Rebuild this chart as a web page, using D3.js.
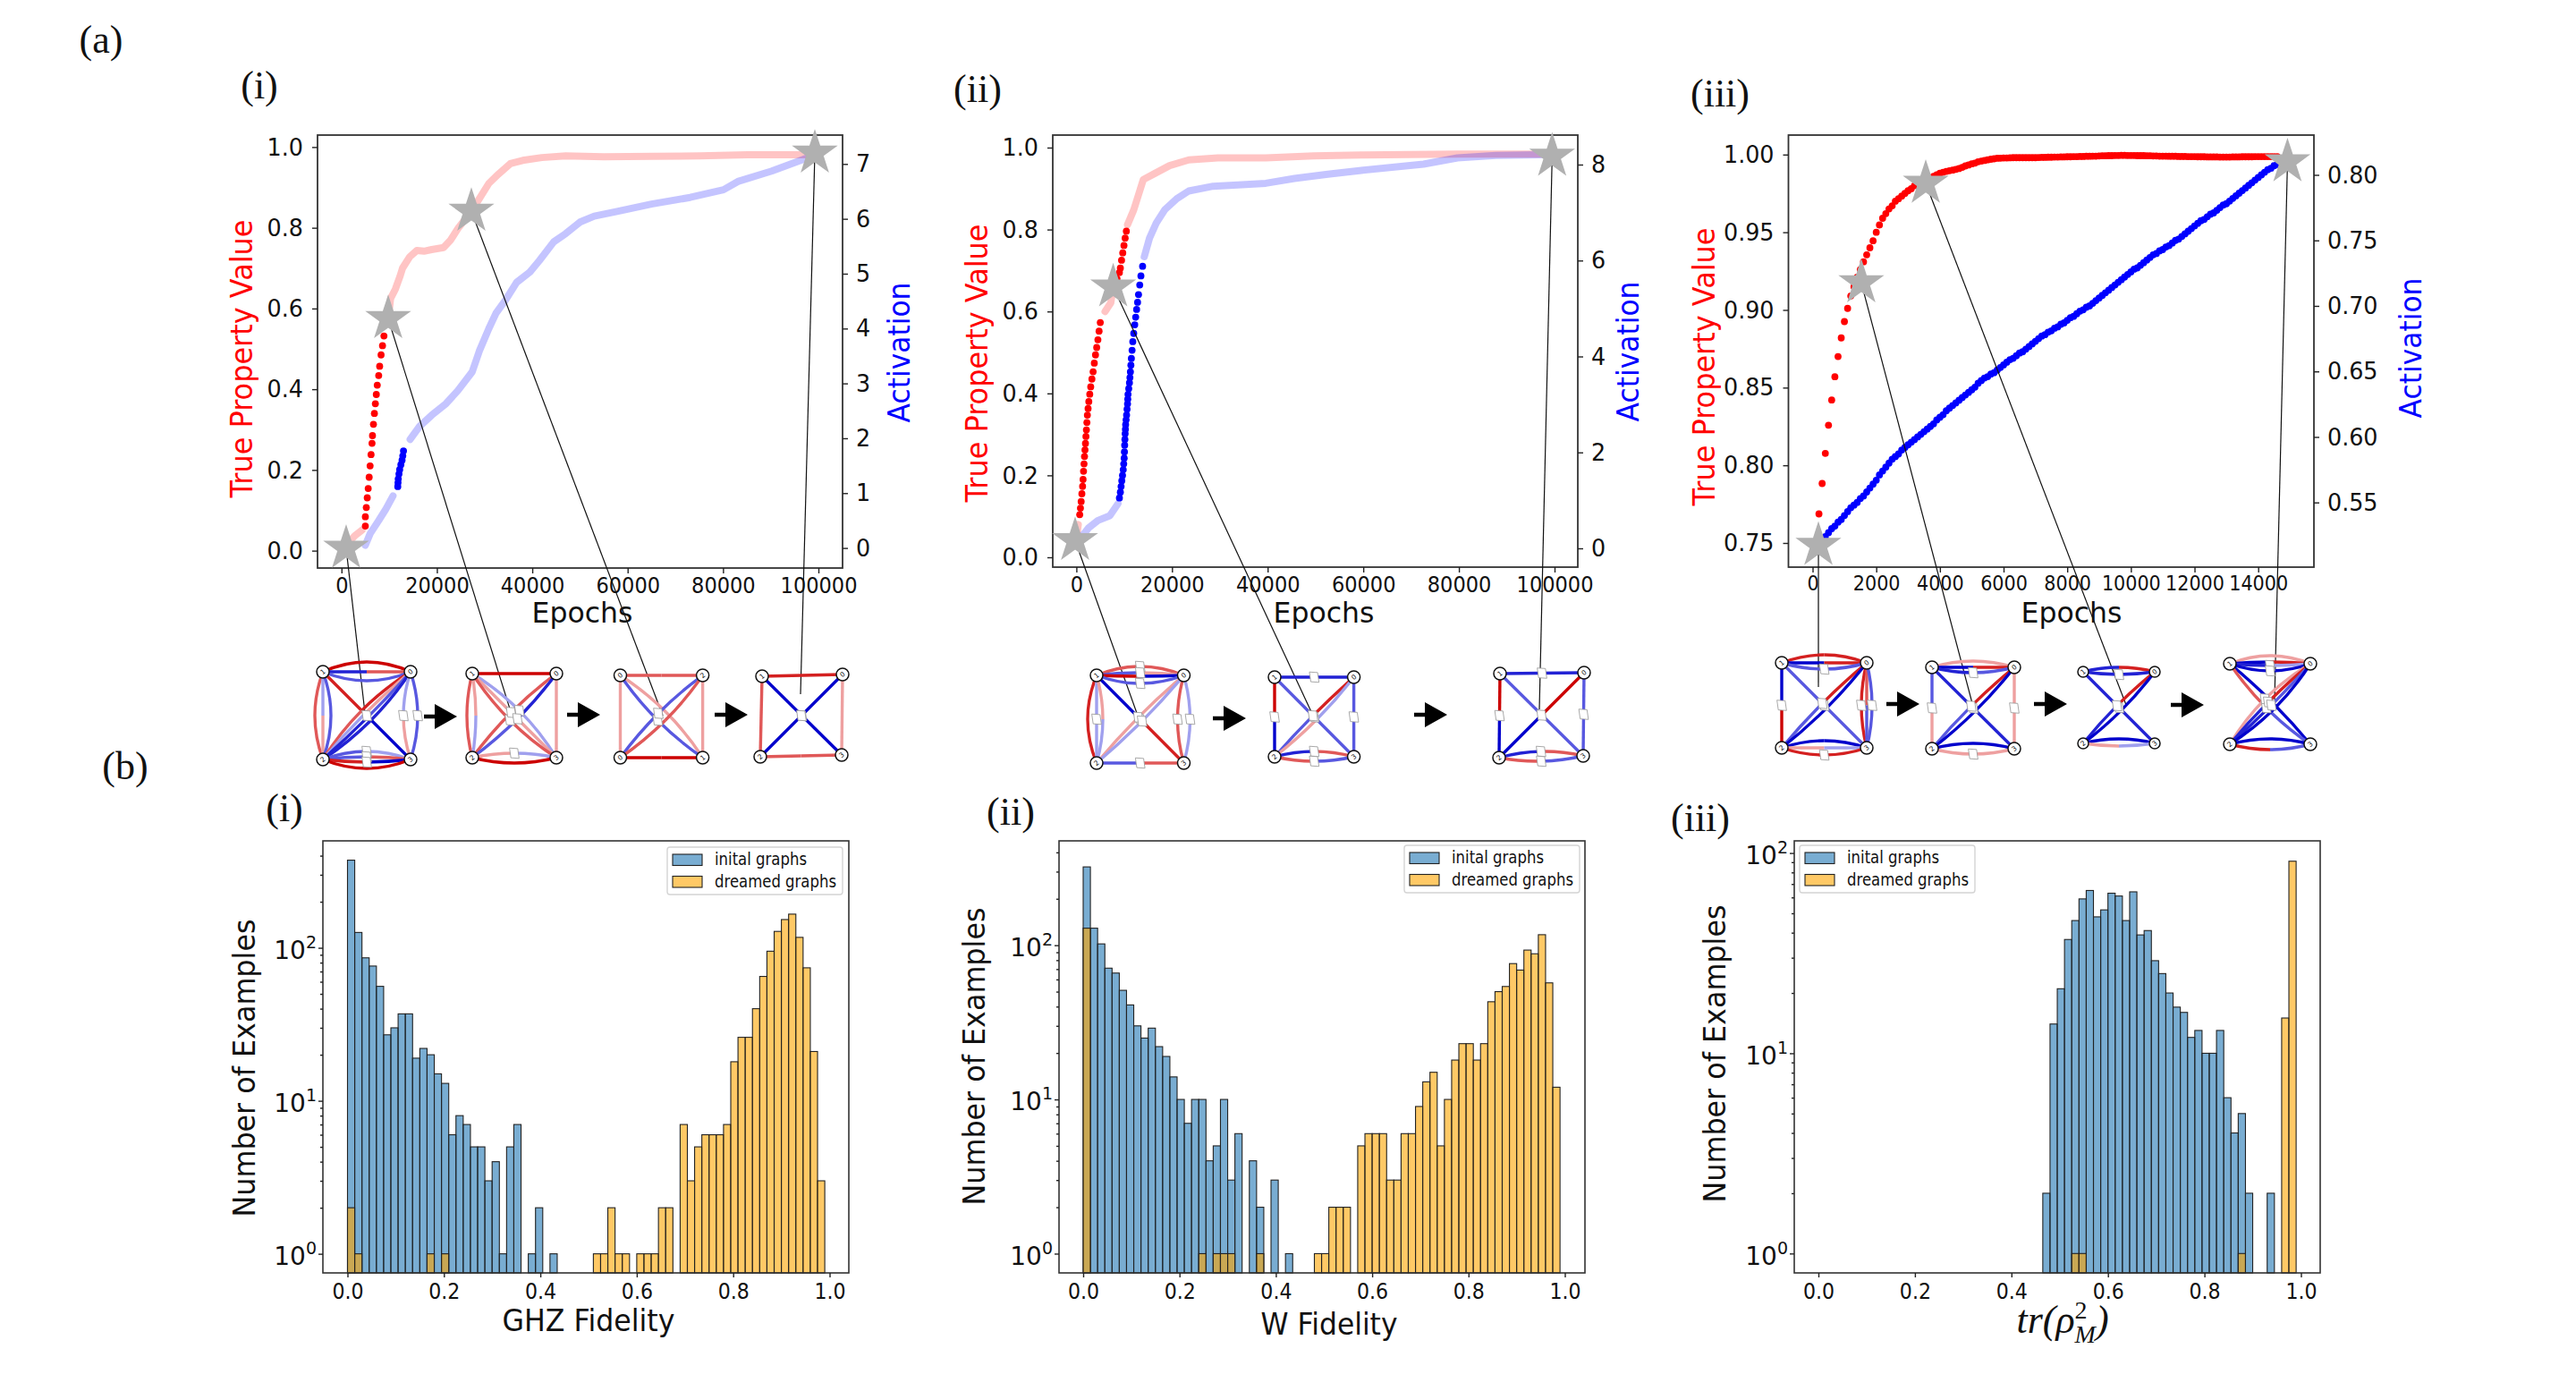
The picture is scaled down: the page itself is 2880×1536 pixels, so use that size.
<!DOCTYPE html>
<html>
<head>
<meta charset="utf-8">
<script src="https://cdnjs.cloudflare.com/ajax/libs/d3/7.8.5/d3.min.js"></script>
<style>
	body { margin: 0; background: #fff; }
	svg { display: block; }
	text { font-family: "DejaVu Sans", sans-serif; fill: #111; }
	.serif { font-family: "Liberation Serif", serif; }
</style>
</head>
<body>
<div id="fig"></div>
<script>
// (a) training curves: [epoch, value]
var redA1 = [[1000,.014],[2800,.037],[4300,.051],[5000,.061],[5000,.084],[5200,.107],[5400,.131],[5600,.154],[5800,.182],[6000,.21],[6200,.238],[6400,.266],[6500,.285],[6700,.313],[6900,.34],[7100,.364],[7300,.387],[7500,.41],[7800,.434],[8000,.457],[8300,.485],[8600,.508],[8900,.532],[9800,.574],[10300,.625],[11300,.648],[12300,.681],[12800,.7],[14300,.728],[15800,.744],[17300,.742],[18900,.746],[21400,.751],[22900,.77],[24400,.798],[27200,.84],[28900,.872],[30900,.91],[32900,.933],[35400,.959],[38000,.967],[42000,.974],[47000,.978],[55000,.976],[65000,.977],[75100,.978],[85100,.981],[99200,.981]];
var blueA1 = [[5000,.05],[6000,.26],[7800,.5],[9300,.71],[10800,.95],[11800,1.12],[11850,1.19],[11900,1.26],[12050,1.35],[12200,1.43],[12450,1.52],[12700,1.6],[12850,1.68],[13000,1.77],[14400,1.98],[16400,2.22],[18900,2.42],[21900,2.63],[24400,2.87],[27400,3.21],[28900,3.59],[30900,4],[32400,4.28],[34400,4.52],[36700,4.84],[39500,5.03],[41500,5.24],[44500,5.58],[47000,5.73],[50000,5.94],[53000,6.05],[58000,6.14],[65000,6.27],[73100,6.39],[80100,6.53],[83100,6.68],[90200,6.87],[99200,7.16]];
var redA2 = [[0,.044],[400,.08],[700,.104],[850,.12],[1000,.136],[1150,.155],[1300,.173],[1400,.19],[1500,.21],[1600,.228],[1700,.246],[1800,.262],[1900,.278],[2000,.295],[2100,.311],[2200,.329],[2300,.347],[2450,.363],[2600,.38],[2800,.398],[3000,.416],[3250,.435],[3500,.453],[3750,.474],[4000,.494],[4250,.512],[4500,.531],[4750,.552],[5000,.573],[6000,.6],[7200,.621],[7700,.66],[8000,.668],[8500,.68],[9000,.695],[9200,.706],[9450,.725],[9700,.743],[9950,.761],[10200,.779],[10450,.796],[10700,.812],[12000,.848],[13000,.885],[14000,.922],[16500,.9375],[19500,.956],[23500,.97],[29600,.975],[39600,.975],[49600,.98],[59600,.982],[69600,.983],[79700,.984],[99500,.984]];
var blueA2 = [[0,.1],[2500,.42],[4500,.58],[7000,.68],[8700,.93],[9000,1.05],[9200,1.17],[9350,1.29],[9500,1.41],[9650,1.52],[9800,1.64],[9900,1.76],[10000,1.88],[10050,2.01],[10100,2.15],[10150,2.27],[10200,2.39],[10250,2.48],[10300,2.58],[10400,2.68],[10500,2.78],[10600,2.9],[10700,3.01],[10750,3.11],[10800,3.21],[10950,3.33],[11100,3.45],[11200,3.56],[11300,3.68],[11400,3.82],[11500,3.96],[11650,4.13],[11800,4.31],[12000,4.48],[12200,4.66],[12400,4.82],[12600,4.98],[12800,5.13],[13000,5.29],[13250,5.49],[13500,5.68],[13850,5.88],[14200,6.08],[15300,6.47],[16700,6.78],[18500,7.06],[21000,7.29],[23500,7.45],[28600,7.55],[34600,7.58],[39600,7.61],[45600,7.71],[52600,7.8],[59600,7.88],[72600,8.01],[79700,8.14],[87700,8.19],[99500,8.21]];
// panel iii was sampled every 100 epochs
var redA3Start = 200;
var redA3 = [.7687,.7883,.8077,.8258,.842,.857,.87,.882,.8925,.901,.909,.915,.921,.926,.931,.9355,.94,.9445,.95,.9547,.959,.962,.965,.967,.97,.9716,.9733,.975,.9767,.978,.98,.981,.982,.983,.984,.985,.986,.987,.988,.9886,.9892,.9896,.99,.9905,.991,.9918,.9927,.9933,.994,.9945,.9954,.9958,.9962,.9966,.997,.9973,.9976,.9977,.9978,.9978,.9979,.998,.998,.998,.998,.998,.998,.998,.998,.9981,.9982,.9982,.9983,.9983,.9984,.9984,.9985,.9985,.9986,.9986,.9987,.9987,.9988,.9988,.9989,.9989,.999,.999,.9991,.9992,.9992,.9993,.9993,.9994,.9994,.9995,.9995,.9994,.9994,.9994,.9993,.9993,.9993,.9992,.9992,.9991,.9991,.999,.999,.999,.9989,.9989,.9989,.9988,.9988,.9988,.9987,.9987,.9987,.9986,.9986,.9986,.9985,.9985,.9985,.9985,.9984,.9984,.9984,.9984,.9985,.9985,.9985,.9986,.9986,.9986,.9986,.9987,.9987,.9987,.9987,.9987,.9987,.9986,.9986];
var blueA3Start = 400;
var blueA3 = [.524,.527,.53,.532,.535,.537,.54,.543,.546,.548,.55,.553,.555,.558,.561,.564,.567,.571,.574,.577,.58,.583,.585,.587,.59,.592,.594,.596,.598,.6,.602,.604,.606,.608,.61,.613,.615,.617,.62,.622,.624,.626,.628,.63,.632,.634,.636,.638,.641,.643,.645,.646,.648,.649,.651,.653,.655,.657,.659,.66,.662,.664,.665,.667,.669,.671,.673,.675,.677,.678,.68,.681,.683,.684,.686,.687,.689,.691,.692,.694,.696,.697,.699,.7,.702,.704,.706,.708,.71,.712,.714,.716,.718,.72,.722,.724,.726,.728,.729,.731,.733,.735,.737,.739,.74,.742,.743,.745,.746,.748,.75,.751,.753,.755,.757,.759,.761,.763,.765,.766,.768,.77,.771,.773,.775,.777,.778,.78,.782,.784,.786,.788,.79,.792,.794,.796,.798,.8,.802,.804,.805,.807,.808,.81,.811];

// where the dots are saturated instead of the pale trail
var solidRedA1 = [[4900,9000]], solidBlueA1 = [[11700,13100]];
var solidRedA2 = [[600,5100],[8400,10500]], solidBlueA2 = [[8900,14000]];

// gray stars, [epoch, left axis value]
var starsA1 = [[975,.006],[9790,.575],[27230,.841],[99250,.985]];
var starsA2 = [[-260,.041],[7700,.66],[99500,.979]];
var starsA3 = [[183,.7485],[1530,.9175],[3555,.9815],[14920,.9953]];

// tick labels
var epochTicks = [0,20000,40000,60000,80000,100000];
var epochTicksA3 = [0,2000,4000,6000,8000,10000,12000,14000];
var leftTicks = [0,.2,.4,.6,.8,1];
var leftTicksA3 = [.75,.8,.85,.9,.95,1];
var rightTicksA1 = [0,1,2,3,4,5,6,7];
var rightTicksA2 = [0,2,4,6,8];
var rightTicksA3 = [.55,.6,.65,.7,.75,.8];
var fidTicks = [0,.2,.4,.6,.8,1];

// (b) histograms, bin counts (bins are 0.015 wide, starting at 0)
var binWidth = 0.015;
var initialB1 = [374,126,86,76,56,27,30,37,37,19,22,20,15,13,6,8,7,5,5,3,4,1,5,7,0,1,2,0,1];
var dreamedB1 = [2,1,0,0,0,0,0,0,0,0,0,1,0,1,0,0,0,0,0,0,0,0,0,0,0,0,0,0,0,0,0,0,0,0,1,1,2,1,1,0,1,1,1,2,2,0,7,3,5,6,6,6,7,18,26,26,40,65,95,128,153,166,117,74,21,3];
var initialB2 = [322,129,102,71,66,51,41,30,25,29,22,19,14,10,7,10,10,4,5,10,3,6,0,4,2,0,3,0,1];
var dreamedB2 = [129,0,0,0,0,0,0,0,0,0,0,0,0,0,0,0,1,0,1,1,1,0,0,0,1,0,0,0,0,0,0,0,1,1,2,2,2,0,5,6,6,6,3,3,6,6,9,13,15,5,10,18,23,23,18,23,43,50,54,76,69,93,88,117,57,12];
var initialB3 = [0,0,0,0,0,0,0,0,0,0,0,0,0,0,0,0,0,0,0,0,0,0,0,0,0,0,0,0,0,0,0,2,14,21,37,46,59,65,48,52,63,61,46,64,39,41,29,25,20,17,16,12,13,10,10,13,6,4,5,2,0,0,2];
var dreamedB3 = [0,0,0,0,0,0,0,0,0,0,0,0,0,0,0,0,0,0,0,0,0,0,0,0,0,0,0,0,0,0,0,0,0,0,0,1,1,0,0,0,0,0,0,0,0,0,0,0,0,0,0,0,0,0,0,0,0,0,1,0,0,0,0,0,15,91];
var legendNames = ["inital graphs", "dreamed graphs"];

// graph snapshots: [from, to, bend, colour near from, colour near to, has label]
var R = "#cc0000", R1 = "#d42020", r2 = "#e05858", r3 = "#eea0a0";
var B = "#0000cc", B1 = "#2222d4", b2 = "#5858e0", b3 = "#a0a0ee";
var edgesA1 = [
	[[1,0,11,R,R],[1,0,0,B1,r2],[1,0,-10,b2,b2],[1,2,-9,r2,r2],[1,2,0,b3,r3],[1,2,9,b2,b2],[1,3,0,R1,B,1],[0,2,-8,R1,r2],[0,2,-3,r3,b3],[0,2,2,b2,B1],[0,2,7,B1,B1],[0,3,-8,b3,r3,1],[0,3,8,b2,b2,1],[2,3,9,b2,b3,1],[2,3,3,b2,r2,1],[2,3,-3,R1,B,1],[2,3,-10,R,R]],
	[[1,0,0,R,R],[1,2,-6,r2,r2],[1,2,4,r3,b3],[1,3,8,b3,b3,1],[1,3,0,r3,r3],[1,3,-7,r2,r2,1],[0,2,-5,r2,r2,1],[0,2,5,B1,b2,1],[0,3,0,r3,r3],[2,3,5,r3,b3,1],[2,3,-6,R,R]],
	[[1,0,0,r2,r2],[1,2,0,r3,r3],[2,3,0,R,R],[0,3,0,r3,r3],[1,3,7,r3,r3],[1,3,-6,b2,b2,1],[0,2,-5,b2,b2,1],[0,2,6,r2,r2]],
	[[1,0,0,R1,R1],[1,2,0,r2,r2],[2,3,0,r2,r2],[0,3,0,r3,r3],[1,3,0,B,B,1],[0,2,0,B,B,1]]
];
var edgesA2 = [
	[[1,0,10,r2,r2,1],[1,0,3,b2,r3,1],[1,0,-1,R,B],[1,0,-9,b2,b2,1],[1,2,-10,R1,R1],[1,2,0,b3,b3,1],[1,2,7,r3,b3],[1,3,0,B,R1,1],[0,2,-3,r3,r3,1],[0,2,3,b3,b3,1],[0,3,-7,r2,r2,1],[0,3,7,b3,b3,1],[2,3,0,b2,r2,1]],
	[[1,0,0,B1,B1,1],[1,2,0,R,B,1],[1,3,0,b2,b2,1],[0,2,-2,R1,b2,1],[0,2,4,b3,r3],[0,3,0,b2,b2,1],[2,3,6,B1,r2,1],[2,3,-5,r2,b2,1]],
	[[1,0,0,B1,B1,1],[1,2,0,R,B,1],[1,3,0,b2,b2],[0,2,0,R,B,1],[0,3,0,b2,b2,1],[2,3,6,B1,r2,1],[2,3,-5,r2,b2,1]]
];
var edgesA3 = [
	[[1,0,9,R1,R1],[1,0,0,B,R1],[1,0,-7,b2,b2,1],[1,2,0,B,R,1],[1,3,0,b2,b2,1],[0,2,-3,R1,b2,1],[0,2,4,B,B],[0,3,-6,R1,R1,1],[0,3,0,r2,b2],[0,3,6,b2,b2,1],[2,3,8,B,B],[2,3,0,r3,b3],[2,3,-8,R1,R1,1]],
	[[1,0,7,r3,r3],[1,0,0,B,R1],[1,0,-6,B1,b2,1],[1,2,0,b2,r3,1],[1,3,0,B1,B1,1],[0,2,-3,R1,b2,1],[0,2,4,B,B],[0,3,0,r3,r3,1],[2,3,6,B,B],[2,3,-6,r3,r3,1]],
	[[1,0,5,B1,R1],[1,0,-3,B1,B1,1],[1,3,0,B1,B1,1],[0,2,-3,R1,B1,1],[0,2,4,B,B],[2,3,5,B,B],[2,3,-3,r3,b3]],
	[[1,0,9,r3,r3],[1,0,2,B,R1],[1,0,-2,B1,b3,1],[1,0,-8,B,B,1],[1,3,3,B,B],[1,3,-6,r2,b2,1],[0,2,-8,r3,r3,1],[0,2,-3,R1,B1,1],[0,2,2,b2,B1,1],[0,2,7,B,B],[2,3,6,B,B],[2,3,-6,R1,b2]]
];

var width = 2880, height = 1536;
var svg = d3.select("#fig").append("svg").attr("width", width).attr("height", height);
svg.append("rect").attr("width", width).attr("height", height).attr("fill", "#fff");

// stretch a text to the measured length
function fit(sel, len) {
	sel.attr("textLength", len).attr("lengthAdjust", "spacingAndGlyphs");
	return sel;
}

function vertLabel(x, y, str, color, size, len) {
	var t = svg.append("text")
		.attr("transform", "translate(" + x + "," + y + ")rotate(-90)")
		.attr("text-anchor", "middle")
		.attr("dy", "0.36em")
		.attr("font-size", size)
		.style("fill", color)
		.text(str);
	fit(t, len);
}

function horizLabel(x, y, str, size, len) {
	var t = svg.append("text")
		.attr("x", x).attr("y", y)
		.attr("text-anchor", "middle")
		.attr("font-size", size)
		.text(str);
	fit(t, len);
}

function serifLabel(x, y, str) {
	svg.append("text").attr("class", "serif")
		.attr("x", x).attr("y", y)
		.attr("text-anchor", "middle")
		.attr("dy", "0.3em")
		.attr("font-size", 44)
		.text(str);
}

// the figure was pasted squeezed a little, so tick text is narrowed by k
function styleAxis(g, size, k) {
	g.select(".domain").remove();
	g.selectAll(".tick line").attr("stroke", "#222").attr("stroke-width", 1.4);
	g.selectAll(".tick text").attr("font-size", size).style("fill", "#111").each(function () {
		if (k && this.textContent) fit(d3.select(this), this.getComputedTextLength() * k);
	});
}

function curvePanel(p) {
	var x = d3.scaleLinear().domain(p.xd).range(p.xr);
	var yL = d3.scaleLinear().domain(p.lyd).range(p.lyr);
	var yR = d3.scaleLinear().domain(p.ryd).range(p.ryr);

	[[p.red, yL, "#ff0000", p.solidRed], [p.blue, yR, "#0000ff", p.solidBlue]].forEach(function (s) {
		var data = s[0], y = s[1], col = s[2], ranges = s[3];
		var isSolid = function (d) {
			return !ranges || ranges.some(function (r) { return d[0] >= r[0] && d[0] <= r[1]; });
		};
		if (ranges) {
			var line = d3.line()
				.defined(function (d) { return !isSolid(d); })
				.x(function (d) { return x(d[0]); })
				.y(function (d) { return y(d[1]); });
			svg.append("path").datum(data)
				.attr("d", line)
				.attr("fill", "none")
				.attr("stroke", col)
				.attr("stroke-opacity", 0.23)
				.attr("stroke-width", 8)
				.attr("stroke-linecap", "round")
				.attr("stroke-linejoin", "round");
		}
		svg.append("g").selectAll("circle").data(data.filter(isSolid)).enter().append("circle")
			.attr("cx", function (d) { return x(d[0]); })
			.attr("cy", function (d) { return y(d[1]); })
			.attr("r", 3.9)
			.attr("fill", col);
	});

	svg.append("rect")
		.attr("x", p.frame[0]).attr("y", p.frame[2])
		.attr("width", p.frame[1] - p.frame[0]).attr("height", p.frame[3] - p.frame[2])
		.attr("fill", "none").attr("stroke", "#333").attr("stroke-width", 1.8);

	var gx = svg.append("g").attr("transform", "translate(0," + p.frame[3] + ")")
		.call(d3.axisBottom(x).tickValues(p.xTicks).tickFormat(d3.format("d")).tickSize(6).tickPadding(4));
	styleAxis(gx, p.xSize, 0.9);
	var gl = svg.append("g").attr("transform", "translate(" + p.frame[0] + ",0)")
		.call(d3.axisLeft(yL).tickValues(p.lTicks).tickFormat(d3.format(p.lFmt)).tickSize(6).tickPadding(10));
	styleAxis(gl, 27, 0.94);
	var gr = svg.append("g").attr("transform", "translate(" + p.frame[1] + ",0)")
		.call(d3.axisRight(yR).tickValues(p.rTicks).tickFormat(d3.format(p.rFmt)).tickSize(6).tickPadding(9));
	styleAxis(gr, 27, 0.94);

	// connectors go from the star down to the snapshot
	p.stars.forEach(function (d, i) {
		svg.append("line")
			.attr("x1", x(d[0])).attr("y1", yL(d[1]))
			.attr("x2", p.ends[i][0]).attr("y2", p.ends[i][1])
			.attr("stroke", "#111").attr("stroke-width", 1.2);
	});
	svg.append("g").selectAll("path").data(p.stars).enter().append("path")
		.attr("d", d3.symbol().type(d3.symbolStar).size(818))
		.attr("transform", function (d) { return "translate(" + x(d[0]) + "," + yL(d[1]) + ")"; })
		.attr("fill", "#b0b0b0");

	horizLabel(p.ex, 696, "Epochs", 32, p.el);
	vertLabel(p.tx, p.ty, "True Property Value", "#ff0000", 33, 311);
	vertLabel(p.ax, p.ay, "Activation", "#0000ff", 33, 157);
}

function drawBars(p, x, y, values, col) {
	var bars = values.map(function (v, i) { return { v: v, i: i }; }).filter(function (d) { return d.v > 0; });
	svg.append("g").selectAll("rect").data(bars).enter().append("rect")
		.attr("x", function (d) { return x(d.i * binWidth); })
		.attr("width", x(binWidth) - x(0))
		.attr("y", function (d) { return y(d.v); })
		.attr("height", function (d) { return p.frame[3] - y(d.v); })
		.attr("fill", col)
		.attr("fill-opacity", 0.6)
		.attr("stroke", "#222")
		.attr("stroke-width", 1.1);
}

function histogram(p) {
	var x = d3.scaleLinear().domain([0, 1]).range(p.xr);
	var y = d3.scaleLog().domain(p.yd).range(p.yr);

	drawBars(p, x, y, p.initial, "#1f77b4");
	drawBars(p, x, y, p.dreamed, "#ffa500");

	svg.append("rect")
		.attr("x", p.frame[0]).attr("y", p.frame[2])
		.attr("width", p.frame[1] - p.frame[0]).attr("height", p.frame[3] - p.frame[2])
		.attr("fill", "none").attr("stroke", "#333").attr("stroke-width", 1.6);

	var gx = svg.append("g").attr("transform", "translate(0," + p.frame[3] + ")")
		.call(d3.axisBottom(x).tickValues(fidTicks).tickFormat(d3.format(".1f")).tickSize(5).tickPadding(7));
	styleAxis(gx, 24, 0.92);

	// log axis: minor ticks without text, then decades with superscripts
	var minor = [];
	[1, 10, 100].forEach(function (dec) {
		d3.range(1, 10).forEach(function (m) {
			var v = dec * m;
			if (m > 1 && v > p.yd[0] && v < p.yd[1]) minor.push(v);
		});
	});
	var gm = svg.append("g").attr("transform", "translate(" + p.frame[0] + ",0)")
		.call(d3.axisLeft(y).tickValues(minor).tickFormat("").tickSize(3));
	styleAxis(gm, 10);
	var gy = svg.append("g").attr("transform", "translate(" + p.frame[0] + ",0)")
		.call(d3.axisLeft(y).tickValues(p.decades).tickFormat("").tickSize(5));
	styleAxis(gy, 10);
	gy.selectAll(".tick").each(function (d) {
		var t = d3.select(this).append("text")
			.attr("x", -7).attr("dy", "0.42em")
			.attr("text-anchor", "end")
			.attr("font-size", 28)
			.style("fill", "#111")
			.text("10");
		t.append("tspan").attr("font-size", 19).attr("dy", -12).text(Math.round(Math.log10(d)));
	});

	// legend
	var lg = p.legend;
	svg.append("rect")
		.attr("x", lg.x).attr("y", lg.y).attr("width", 196).attr("height", 53).attr("rx", 3)
		.attr("fill", "#fff").attr("fill-opacity", 0.85).attr("stroke", "#d4d4d4").attr("stroke-width", 1.4);
	legendNames.forEach(function (name, i) {
		var yy = lg.y + 8 + i * 24.5;
		svg.append("rect")
			.attr("x", lg.x + 6).attr("y", yy).attr("width", 33).attr("height", 12.5)
			.attr("fill", i ? "#ffa500" : "#1f77b4").attr("fill-opacity", 0.6)
			.attr("stroke", "#222").attr("stroke-width", 1.1);
		var t = svg.append("text")
			.attr("x", lg.x + 53).attr("y", yy + 12)
			.attr("font-size", 19)
			.text(name);
		fit(t, i ? 136 : 103);
	});

	vertLabel(p.nx, p.ny, "Number of Examples", "#111", 34, 333);
}

function graphSnapshot(pos, edges, labels) {
	var g = svg.append("g");
	var squares = [];
	edges.forEach(function (e) {
		var a = pos[e[0]], b = pos[e[1]];
		var dx = b[0] - a[0], dy = b[1] - a[1], l = Math.hypot(dx, dy);
		var nx = dy / l, ny = -dx / l;
		var m0 = [(a[0] + b[0]) / 2, (a[1] + b[1]) / 2];
		var c = [m0[0] + nx * 2 * e[2], m0[1] + ny * 2 * e[2]];
		var m = [m0[0] + nx * e[2], m0[1] + ny * e[2]];
		[[a, [(a[0] + c[0]) / 2, (a[1] + c[1]) / 2], e[3]], [m, [(c[0] + b[0]) / 2, (c[1] + b[1]) / 2], e[4]]].forEach(function (h, i) {
			var path = d3.path();
			path.moveTo(h[0][0], h[0][1]);
			path.quadraticCurveTo(h[1][0], h[1][1], i ? b[0] : m[0], i ? b[1] : m[1]);
			g.append("path").attr("d", path.toString())
				.attr("fill", "none").attr("stroke", h[2]).attr("stroke-width", 3.4);
		});
		if (e[5]) squares.push(m);
	});
	g.selectAll("rect").data(squares).enter().append("rect")
		.attr("x", -4.5).attr("y", -5.5).attr("width", 9).attr("height", 11)
		.attr("transform", function (d) { return "translate(" + d[0] + "," + d[1] + ")rotate(-8)skewY(12)"; })
		.attr("fill", "#fff").attr("stroke", "#999").attr("stroke-width", 0.8);
	pos.forEach(function (d, i) {
		var r = labels.r || 7;
		g.append("circle").attr("cx", d[0]).attr("cy", d[1]).attr("r", r)
			.attr("fill", "#fff").attr("stroke", "#111").attr("stroke-width", 1.5);
		g.append("text")
			.attr("transform", "translate(" + d[0] + "," + d[1] + ")rotate(-40)")
			.attr("text-anchor", "middle").attr("dy", "0.35em")
			.attr("font-size", 7.5)
			.text(labels.names[i]);
	});
}

function arrow(x, y) {
	var a = d3.path();
	a.moveTo(x, y - 2.2);
	a.lineTo(x + 12, y - 2.2);
	a.lineTo(x + 12, y - 14);
	a.lineTo(x + 37, y);
	a.lineTo(x + 12, y + 14);
	a.lineTo(x + 12, y + 2.2);
	a.lineTo(x, y + 2.2);
	a.closePath();
	svg.append("path").attr("d", a.toString()).attr("fill", "#000");
}

// row (a)
curvePanel({ red: redA1, blue: blueA1, solidRed: solidRedA1, solidBlue: solidBlueA1, stars: starsA1,
	xd: [0, 100000], xr: [381.8, 915], lyd: [0, 1], lyr: [615.6, 164.4], ryd: [0, 7], ryr: [612.6, 183.3],
	frame: [355, 942, 151, 635], xTicks: epochTicks, xSize: 25, lTicks: leftTicks, lFmt: ".1f", rTicks: rightTicksA1, rFmt: "d",
	ends: [[408, 797], [573, 802], [741, 800], [895, 776]],
	ex: 651, el: 113, tx: 270, ty: 401, ax: 1005, ay: 394 });
curvePanel({ red: redA2, blue: blueA2, solidRed: solidRedA2, solidBlue: solidBlueA2, stars: starsA2,
	xd: [0, 100000], xr: [1203.4, 1738], lyd: [0, 1], lyr: [623, 165], ryd: [0, 8], ryr: [613, 184],
	frame: [1177, 1764, 151, 634], xTicks: epochTicks, xSize: 25, lTicks: leftTicks, lFmt: ".1f", rTicks: rightTicksA2, rFmt: "d",
	ends: [[1272, 800], [1468, 800], [1721, 793]],
	ex: 1480, el: 113, tx: 1092, ty: 406, ax: 1820, ay: 393 });
curvePanel({ red: redA3.map(function (v, i) { return [redA3Start + i * 100, v]; }),
	blue: blueA3.map(function (v, i) { return [blueA3Start + i * 100, v]; }), stars: starsA3,
	xd: [0, 14000], xr: [2026.5, 2524.7], lyd: [.75, 1], lyr: [607, 172.8], ryd: [.55, .8], ryr: [561.7, 195.5],
	frame: [1999.5, 2587, 151, 634], xTicks: epochTicksA3, xSize: 23, lTicks: leftTicksA3, lFmt: ".2f", rTicks: rightTicksA3, rFmt: ".2f",
	ends: [[2033, 768], [2206, 790], [2377, 788], [2543, 782]],
	ex: 2316, el: 113, tx: 1905, ty: 410, ax: 2695, ay: 389 });

// snapshots under each curve
var plain = { names: ["0", "1", "2", "3"] };
graphSnapshot([[459,751],[361,751],[361,849],[459,849]], edgesA1[0], plain);
graphSnapshot([[622,753],[528,753],[528,847],[622,847]], edgesA1[1], plain);
graphSnapshot([[785.6,755],[693.5,755],[693.5,847],[785.6,847]], edgesA1[2], { names: ["2", "0", "0", "1"] });
graphSnapshot([[942,754],[852,756],[850,846],[941,844]], edgesA1[3], plain);
graphSnapshot([[1323.5,755],[1226,755],[1226,853],[1323.5,853]], edgesA2[0], plain);
graphSnapshot([[1513.6,757],[1425,757],[1425,846],[1513.6,846]], edgesA2[1], plain);
graphSnapshot([[1771,752],[1677,753],[1676,847],[1770,845]], edgesA2[2], plain);
graphSnapshot([[2087,741],[1992,741],[1992,836],[2087,836]], edgesA3[0], plain);
graphSnapshot([[2252,746],[2160,746],[2160,837],[2252,837]], edgesA3[1], plain);
graphSnapshot([[2409,751],[2329,751],[2329,831],[2409,831]], edgesA3[2], { names: ["0", "1", "2", "3"], r: 6 });
graphSnapshot([[2583,742],[2493,742],[2493,832],[2583,832]], edgesA3[3], plain);
[[474,801],[634,799],[799,799],[1356,803],[1581,799],[2109,787],[2274,787],[2427,788]].forEach(function (d) { arrow(d[0], d[1]); });

// row (b)
histogram({ initial: initialB1, dreamed: dreamedB1, xr: [388.5, 927.5], yd: [.75, 500], yr: [1423, 940],
	frame: [361, 949, 940, 1423], decades: [1, 10, 100], legend: { x: 746, y: 947 }, nx: 273, ny: 1194 });
histogram({ initial: initialB2, dreamed: dreamedB2, xr: [1211, 1749.5], yd: [.75, 475], yr: [1423, 940],
	frame: [1184, 1772, 940, 1423], decades: [1, 10, 100], legend: { x: 1570, y: 945 }, nx: 1089, ny: 1181 });
histogram({ initial: initialB3, dreamed: dreamedB3, xr: [2033, 2572.5], yd: [.8, 115], yr: [1423, 940],
	frame: [2006, 2594, 940, 1423], decades: [1, 10, 100], legend: { x: 2012, y: 945 }, nx: 1917, ny: 1178 });

horizLabel(658, 1488, "GHZ Fidelity", 33, 193);
horizLabel(1486, 1492, "W Fidelity", 33, 153);
var tr = svg.append("text").attr("class", "serif")
	.attr("x", 2306).attr("y", 1490)
	.attr("text-anchor", "middle")
	.attr("font-size", 44)
	.attr("font-style", "italic")
	.text("tr(ρ");
tr.append("tspan").attr("font-size", 28).attr("font-style", "normal").attr("dy", -16).text("2");
tr.append("tspan").attr("font-size", 28).attr("dx", -14).attr("dy", 27).text("M");
tr.append("tspan").attr("dy", -11).text(")");

serifLabel(113, 46, "(a)");
serifLabel(140, 858, "(b)");
serifLabel(290, 97, "(i)");
serifLabel(1093, 101, "(ii)");
serifLabel(1923, 106, "(iii)");
serifLabel(318, 905, "(i)");
serifLabel(1130, 909, "(ii)");
serifLabel(1901, 916, "(iii)");
</script>
</body>
</html>
